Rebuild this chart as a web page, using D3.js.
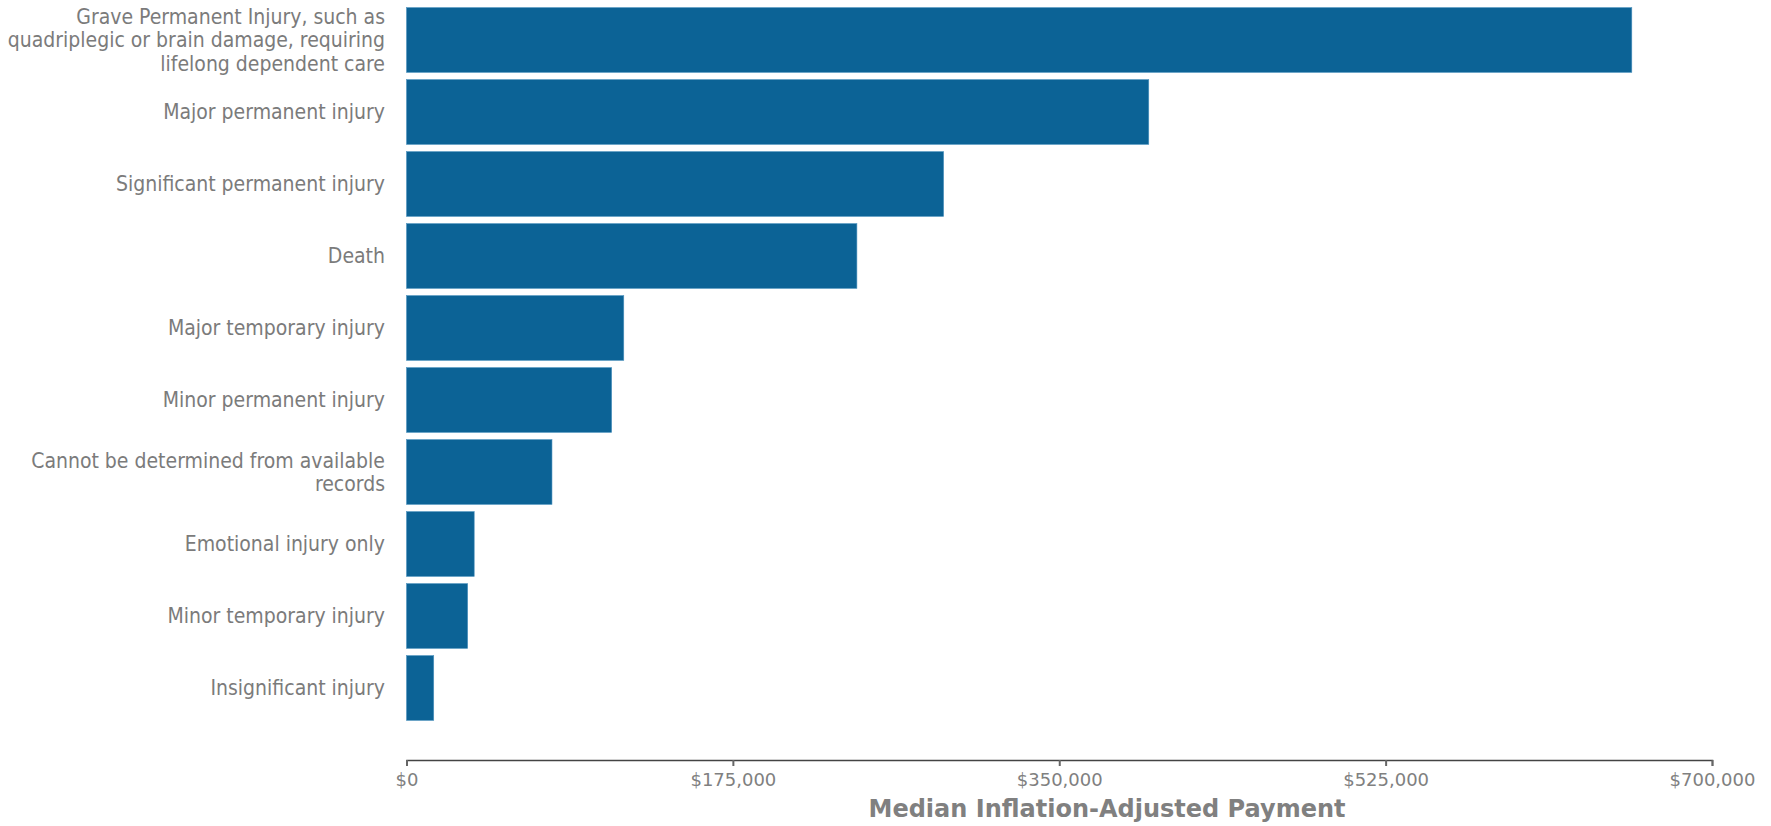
<!DOCTYPE html>
<html>
<head>
<meta charset="utf-8">
<script src="https://cdn.jsdelivr.net/npm/d3@7"></script>
<style>
  html, body { margin: 0; padding: 0; background: #fff; }
  svg { display: block; }
</style>
</head>
<body>
<svg id="chart" width="1771" height="826"></svg>
<script>
const categories = [
  "Grave Permanent Injury, such as\nquadriplegic or brain damage, requiring\nlifelong dependent care",
  "Major permanent injury",
  "Significant permanent injury",
  "Death",
  "Major temporary injury",
  "Minor permanent injury",
  "Cannot be determined from available\nrecords",
  "Emotional injury only",
  "Minor temporary injury",
  "Insignificant injury"
];
const payments = [657000, 398000, 288000, 241500, 116500, 110000, 78000, 36300, 32800, 14600];
const tickValues = [0, 175000, 350000, 525000, 700000];
const axisTitle = "Median Inflation-Adjusted Payment";

const svg = d3.select("#chart");
const x = d3.scaleLinear().domain([0, 700000]).range([406.5, 1712]);
const y = d3.scaleBand().domain(categories).range([4, 724]).paddingInner(0.1).paddingOuter(0.05);

svg.append("g").selectAll("rect")
  .data(categories)
  .join("rect")
  .attr("x", x(0))
  .attr("y", d => y(d))
  .attr("width", (d, i) => x(payments[i]) - x(0))
  .attr("height", y.bandwidth())
  .attr("fill", "#0c6396")
  .attr("stroke", "#4f93bf")
  .attr("stroke-width", 0.6);

// category labels
const lineH = 23.5;
const lab = svg.append("g")
  .attr("font-family", "'DejaVu Sans Condensed', 'DejaVu Sans', sans-serif")
  .attr("font-size", 21)
  .attr("fill", "#7b7b7b");
categories.forEach(c => {
  const lines = c.split("\n");
  const cy = y(c) + y.bandwidth() / 2;
  const t = lab.append("text")
    .attr("text-anchor", "end")
    .attr("x", 385)
    .attr("y", cy - (lines.length - 1) * lineH / 2);
  lines.forEach((ln, k) => {
    t.append("tspan").attr("x", 385).attr("dy", k === 0 ? "0.35em" : lineH).text(ln);
  });
});

// x axis
const ax = svg.append("g")
  .attr("transform", "translate(0,760)")
  .call(d3.axisBottom(x).tickValues(tickValues).tickFormat(d3.format("$,.0f")).tickSize(6).tickPadding(7));
ax.select(".domain").attr("stroke", "#444").attr("stroke-width", 1.5);
ax.selectAll(".tick line").attr("stroke", "#666").attr("stroke-width", 2);
ax.selectAll(".tick text")
  .attr("font-family", "'DejaVu Sans', sans-serif")
  .attr("font-size", 18)
  .attr("fill", "#808080");

svg.append("text")
  .attr("x", 1107)
  .attr("y", 817)
  .attr("text-anchor", "middle")
  .attr("font-family", "'DejaVu Sans', sans-serif")
  .attr("font-weight", "bold")
  .attr("font-size", 24)
  .attr("fill", "#808080")
  .text(axisTitle);
</script>
</body>
</html>
